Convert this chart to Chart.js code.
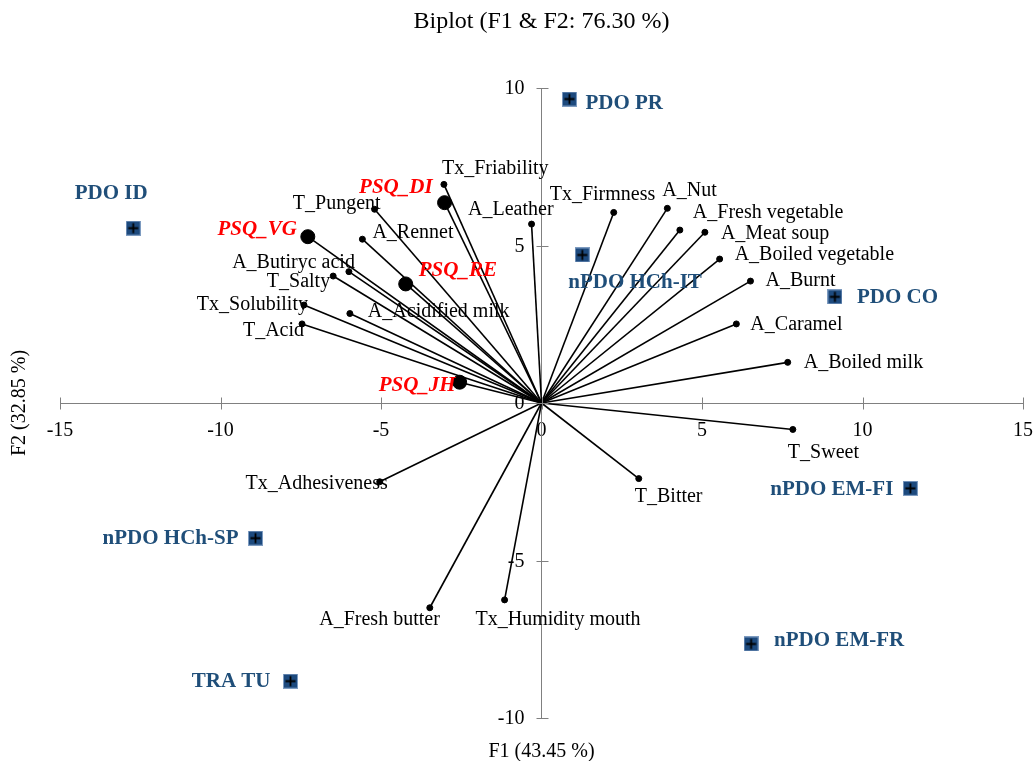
<!DOCTYPE html>
<html>
<head>
<meta charset="utf-8">
<script src="https://cdn.jsdelivr.net/npm/chart.js@4.4.0/dist/chart.umd.min.js"></script>
<style>
  html, body { margin: 0; padding: 0; background: #fff; }
  #wrap { width: 1035px; height: 761px; }
</style>
</head>
<body>
<div id="wrap"><canvas id="myChart"></canvas></div>
<script>
// Variables (F1, F2)
const varNames = ['Tx_Friability', 'A_Leather', 'T_Pungent', 'A_Rennet', 'A_Butiryc acid', 'T_Salty',
    'Tx_Solubility', 'T_Acid', 'A_Acidified milk', 'Tx_Firmness', 'A_Nut', 'A_Fresh vegetable',
    'A_Meat soup', 'A_Boiled vegetable', 'A_Burnt', 'A_Caramel', 'A_Boiled milk', 'T_Sweet',
    'T_Bitter', 'Tx_Adhesiveness', 'A_Fresh butter', 'Tx_Humidity mouth'];
const varF1 = [-3.04, -0.31, -5.20, -5.58, -6.00, -6.49, -7.40, -7.46, -5.97, 2.25, 3.92, 4.31,
    5.09, 5.55, 6.51, 6.07, 7.67, 7.83, 3.03, -5.04, -3.48, -1.15];
const varF2 = [6.94, 5.68, 6.15, 5.20, 4.17, 4.03, 3.11, 2.51, 2.84, 6.05, 6.18, 5.49,
    5.42, 4.57, 3.87, 2.51, 1.29, -0.84, -2.40, -2.50, -6.50, -6.25];

// Supplementary variables (PSQ)
const psqNames = ['PSQ_DI', 'PSQ_VG', 'PSQ_RE', 'PSQ_JH'];
const psqF1 = [-3.02, -7.28, -4.23, -2.55];
const psqF2 = [6.36, 5.28, 3.78, 0.66];

// Observations (cheeses)
const obsNames = ['PDO ID', 'PDO PR', 'nPDO HCh-IT', 'PDO CO', 'nPDO EM-FI', 'nPDO EM-FR', 'nPDO HCh-SP', 'TRA TU'];
const obsF1 = [-12.72, 0.87, 1.27, 9.14, 11.49, 6.53, -8.91, -7.82];
const obsF2 = [5.55, 9.65, 4.70, 3.37, -2.71, -7.65, -4.29, -8.83];

const xTicks = [-15, -10, -5, 0, 5, 10, 15];
const yTicks = [-10, -5, 0, 5, 10];

// where each label sits relative to its point: [dx, dy, align]
const labelPos = {
    'Tx_Friability': [-2, -16, 'left'],
    'A_Leather': [22, -14, 'right'],
    'T_Pungent': [6, -6, 'right'],
    'A_Rennet': [10, -6, 'left'],
    'A_Butiryc acid': [6, -9, 'right'],
    'T_Salty': [-3, 6, 'right'],
    'Tx_Solubility': [4, 0, 'right'],
    'T_Acid': [2, 7, 'right'],
    'A_Acidified milk': [18, -2, 'left'],
    'Tx_Firmness': [-64, -18, 'left'],
    'A_Nut': [-5, -18, 'left'],
    'A_Fresh vegetable': [13, -17, 'left'],
    'A_Meat soup': [16, 1, 'left'],
    'A_Boiled vegetable': [15, -4, 'left'],
    'A_Burnt': [15, 0, 'left'],
    'A_Caramel': [14, 1, 'left'],
    'A_Boiled milk': [16, 0, 'left'],
    'T_Sweet': [-5, 23, 'left'],
    'T_Bitter': [-4, 18, 'left'],
    'Tx_Adhesiveness': [8, 2, 'right'],
    'A_Fresh butter': [10, 12, 'right'],
    'Tx_Humidity mouth': [-29, 20, 'left'],
    'PSQ_DI': [-12, -15, 'right'],
    'PSQ_VG': [-11, -7, 'right'],
    'PSQ_RE': [13, -13, 'left'],
    'PSQ_JH': [-4, 3, 'right'],
    'PDO ID': [-22, -35, 'center'],
    'PDO PR': [16, 5, 'left'],
    'nPDO HCh-IT': [-14, 28, 'left'],
    'PDO CO': [22, 1, 'left'],
    'nPDO EM-FI': [-17, 1, 'right'],
    'nPDO EM-FR': [23, -3, 'left'],
    'nPDO HCh-SP': [-17, 0, 'right'],
    'TRA TU': [-20, 0, 'right']
};

const SERIF = '"Liberation Serif", "Times New Roman", serif';
const BLUE = '#1f4e79';
const AXIS = '#808080';

// square marker with a cross
const marker = document.createElement('canvas');
marker.width = 15;
marker.height = 15;
const mctx = marker.getContext('2d');
mctx.fillStyle = '#7d9bc0';
mctx.fillRect(0, 0, 15, 15);
mctx.fillStyle = '#1d4a7e';
mctx.fillRect(1, 1, 13, 13);
mctx.strokeStyle = '#000';
mctx.lineWidth = 1.8;
mctx.beginPath();
mctx.moveTo(7.5, 2.5); mctx.lineTo(7.5, 12.5);
mctx.moveTo(2.5, 7.5); mctx.lineTo(12.5, 7.5);
mctx.stroke();

const toPoints = (xs, ys) => xs.map((x, i) => ({ x: x, y: ys[i] }));

// one line dataset per vector, from the origin
const vectorSets = [];
varNames.concat(psqNames).forEach((n, i) => {
    const x = i < varNames.length ? varF1[i] : psqF1[i - varNames.length];
    const y = i < varNames.length ? varF2[i] : psqF2[i - varNames.length];
    vectorSets.push({
        data: [{ x: 0, y: 0 }, { x: x, y: y }],
        showLine: true,
        borderColor: '#000',
        borderWidth: 1.6,
        pointRadius: 0,
        pointHoverRadius: 0
    });
});

const labelPlugin = {
    id: 'biplotText',
    afterDraw(chart) {
        const c = chart.ctx;
        const area = chart.chartArea;
        const sx = chart.scales.x, sy = chart.scales.y;
        c.save();

        // crossing ticks on both axes
        c.strokeStyle = AXIS;
        c.lineWidth = 1;
        c.beginPath();
        const y0 = Math.round(sy.getPixelForValue(0)) + 0.5;
        const x0 = Math.round(sx.getPixelForValue(0)) + 0.5;
        xTicks.forEach(t => {
            const px = Math.round(sx.getPixelForValue(t)) + 0.5;
            c.moveTo(px, y0 - 6); c.lineTo(px, y0 + 6);
        });
        yTicks.forEach(t => {
            const py = Math.round(sy.getPixelForValue(t)) + 0.5;
            c.moveTo(x0 - 6, py); c.lineTo(x0 + 6, py);
        });
        c.stroke();

        // y tick labels, left of the vertical axis
        c.fillStyle = '#000';
        c.font = '20px ' + SERIF;
        c.textAlign = 'right';
        c.textBaseline = 'middle';
        yTicks.forEach(t => {
            c.fillText(String(t), x0 - 18, sy.getPixelForValue(t) + 1);
        });

        // point labels
        chart.data.datasets.forEach((ds, di) => {
            if (!ds.labels) return;
            const meta = chart.getDatasetMeta(di);
            c.font = ds.labelFont;
            c.fillStyle = ds.labelColor;
            meta.data.forEach((pt, i) => {
                const p = labelPos[ds.labels[i]] || [8, 0, 'left'];
                c.textAlign = p[2];
                c.fillText(ds.labels[i], pt.x + p[0], pt.y + p[1]);
            });
        });

        // title and axis titles
        c.fillStyle = '#000';
        c.textAlign = 'center';
        c.font = '24px ' + SERIF;
        c.fillText('Biplot (F1 & F2: 76.30 %)', (area.left + area.right) / 2, 22);
        c.font = '20px ' + SERIF;
        c.fillText('F1 (43.45 %)', (area.left + area.right) / 2, 752);
        c.translate(20, (area.top + area.bottom) / 2);
        c.rotate(-Math.PI / 2);
        c.fillText('F2 (32.85 %)', 0, 0);
        c.restore();
    }
};

new Chart(document.getElementById('myChart'), {
    type: 'scatter',
    data: {
        datasets: vectorSets.concat([
            {
                data: toPoints(varF1, varF2),
                labels: varNames,
                labelFont: '20px ' + SERIF,
                labelColor: '#000',
                backgroundColor: '#000',
                borderColor: '#000',
                pointRadius: 3
            },
            {
                data: toPoints(psqF1, psqF2),
                labels: psqNames,
                labelFont: 'italic bold 21px ' + SERIF,
                labelColor: '#ff0000',
                backgroundColor: '#000',
                borderColor: '#000',
                pointRadius: 7
            },
            {
                data: toPoints(obsF1, obsF2),
                labels: obsNames,
                labelFont: 'bold 21px ' + SERIF,
                labelColor: BLUE,
                pointStyle: marker
            }
        ])
    },
    options: {
        responsive: true,
        maintainAspectRatio: false,
        animation: false,
        layout: { padding: { left: 60, right: 12, top: 88, bottom: 43 } },
        plugins: {
            legend: { display: false },
            tooltip: { enabled: false }
        },
        scales: {
            x: {
                type: 'linear',
                min: -15,
                max: 15,
                position: { y: 0 },
                afterBuildTicks: s => { s.ticks = xTicks.map(v => ({ value: v })); },
                afterFit: s => { s.height = 0; s.paddingLeft = 0; s.paddingRight = 0; },
                grid: { display: false, drawOnChartArea: false, tickLength: 6 },
                border: { color: AXIS, width: 1 },
                ticks: { color: '#000', padding: 10, maxRotation: 0, font: { family: SERIF, size: 20 } }
            },
            y: {
                type: 'linear',
                min: -10,
                max: 10,
                position: { x: 0 },
                afterBuildTicks: s => { s.ticks = yTicks.map(v => ({ value: v })); },
                afterFit: s => { s.width = 0; s.paddingTop = 0; s.paddingBottom = 0; },
                grid: { display: false, drawOnChartArea: false },
                border: { color: AXIS, width: 1 },
                ticks: { display: false }
            }
        }
    },
    plugins: [labelPlugin]
});
</script>
</body>
</html>
